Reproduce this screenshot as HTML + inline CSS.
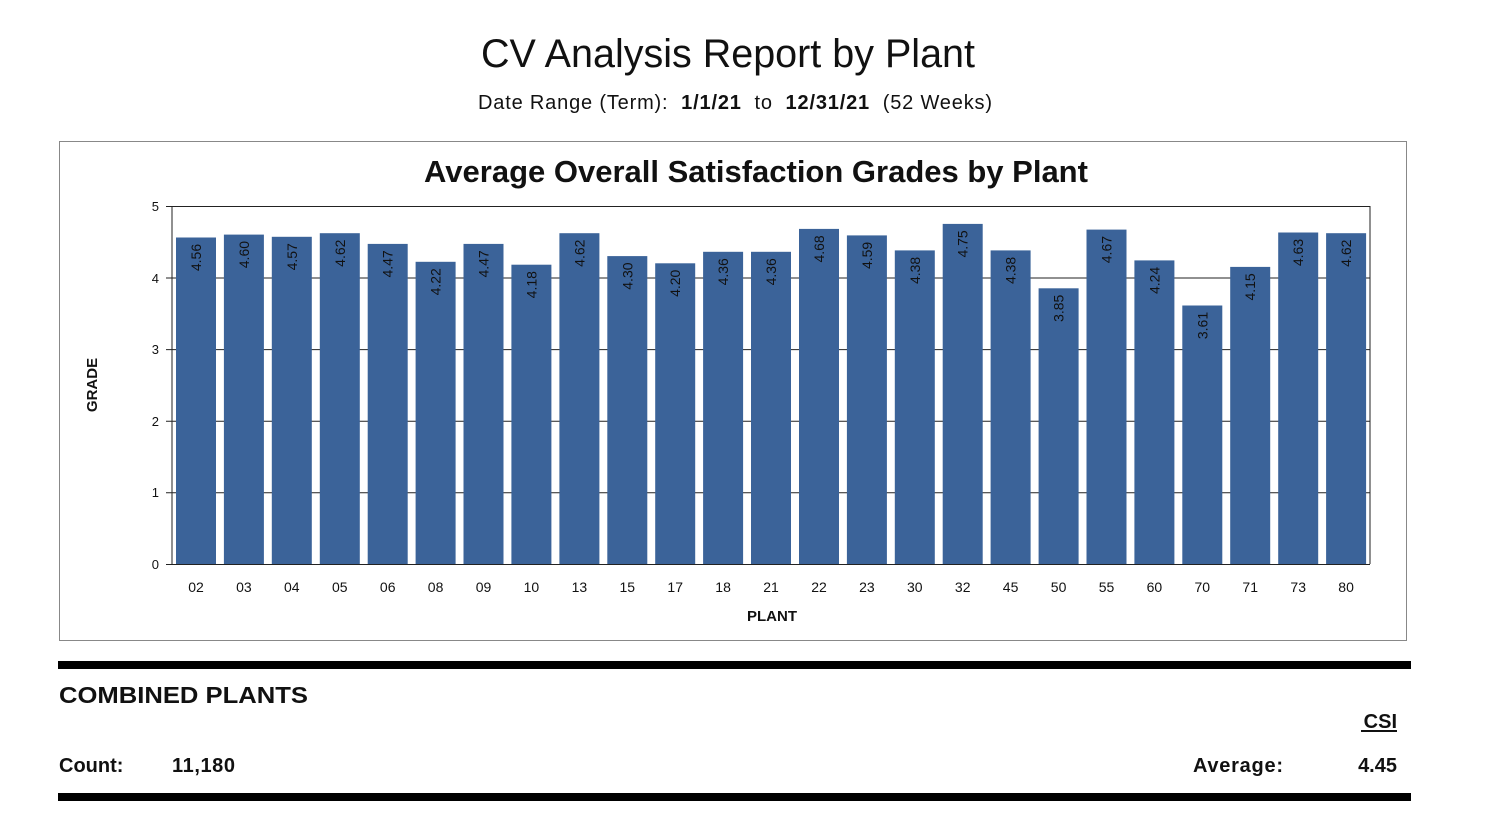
<!DOCTYPE html><html><head><style>body{margin:0;background:#fff}svg{display:block}</style></head><body>
<svg width="1495" height="835" xmlns="http://www.w3.org/2000/svg" font-family="Liberation Sans, Arial, sans-serif">
<rect width="1495" height="835" fill="#fff"/>
<text x="728" y="67" font-size="39.5" text-anchor="middle" fill="#111">CV Analysis Report by Plant</text>
<text x="478" y="109" font-size="20" fill="#111" textLength="514" lengthAdjust="spacing" xml:space="preserve">Date Range (Term):&#160;&#160;<tspan font-weight="bold">1/1/21</tspan>&#160;&#160;to&#160;&#160;<tspan font-weight="bold">12/31/21</tspan>&#160;&#160;(52 Weeks)</text>
<rect x="59.5" y="141.5" width="1347" height="499" fill="#fff" stroke="#888" stroke-width="1"/>
<text x="756" y="182" font-size="31" font-weight="bold" text-anchor="middle" fill="#111">Average Overall Satisfaction Grades by Plant</text>
<g stroke="#222" stroke-width="1">
<line x1="172" y1="206.5" x2="1370" y2="206.5"/><line x1="166" y1="278" x2="1370" y2="278"/><line x1="166" y1="349.6" x2="1370" y2="349.6"/><line x1="166" y1="421.2" x2="1370" y2="421.2"/><line x1="166" y1="492.8" x2="1370" y2="492.8"/><line x1="166" y1="206.5" x2="172" y2="206.5"/>
<line x1="1370" y1="206" x2="1370" y2="564"/>
</g>
<g font-size="13" fill="#111" text-anchor="end"><text x="159" y="211">5</text><text x="159" y="283">4</text><text x="159" y="354">3</text><text x="159" y="426">2</text><text x="159" y="497">1</text><text x="159" y="569">0</text></g>
<text transform="translate(97,385) rotate(-90)" font-size="15" font-weight="bold" text-anchor="middle" fill="#111">GRADE</text>
<text x="772" y="621" font-size="15" font-weight="bold" text-anchor="middle" fill="#111">PLANT</text>
<g fill="#3b6399">
<rect x="176" y="237.5" width="40" height="326.5"/><rect x="223.9" y="234.6" width="40" height="329.4"/><rect x="271.8" y="236.8" width="40" height="327.2"/><rect x="319.8" y="233.2" width="40" height="330.8"/><rect x="367.7" y="243.9" width="40" height="320.1"/><rect x="415.6" y="261.8" width="40" height="302.2"/><rect x="463.5" y="243.9" width="40" height="320.1"/><rect x="511.4" y="264.7" width="40" height="299.3"/><rect x="559.4" y="233.2" width="40" height="330.8"/><rect x="607.3" y="256.1" width="40" height="307.9"/><rect x="655.2" y="263.3" width="40" height="300.7"/><rect x="703.1" y="251.8" width="40" height="312.2"/><rect x="751" y="251.8" width="40" height="312.2"/><rect x="799" y="228.9" width="40" height="335.1"/><rect x="846.9" y="235.4" width="40" height="328.6"/><rect x="894.8" y="250.4" width="40" height="313.6"/><rect x="942.7" y="223.9" width="40" height="340.1"/><rect x="990.6" y="250.4" width="40" height="313.6"/><rect x="1038.6" y="288.3" width="40" height="275.7"/><rect x="1086.5" y="229.6" width="40" height="334.4"/><rect x="1134.4" y="260.4" width="40" height="303.6"/><rect x="1182.3" y="305.5" width="40" height="258.5"/><rect x="1230.2" y="266.9" width="40" height="297.1"/><rect x="1278.2" y="232.5" width="40" height="331.5"/><rect x="1326.1" y="233.2" width="40" height="330.8"/>
</g>
<line x1="172" y1="206" x2="172" y2="564.5" stroke="#222"/><line x1="166" y1="564.5" x2="1370" y2="564.5" stroke="#222"/>
<g font-size="14" fill="#111" text-anchor="middle" dominant-baseline="central">
<text transform="translate(196,257.5) rotate(-90)">4.56</text><text transform="translate(243.9,254.6) rotate(-90)">4.60</text><text transform="translate(291.8,256.8) rotate(-90)">4.57</text><text transform="translate(339.8,253.2) rotate(-90)">4.62</text><text transform="translate(387.7,263.9) rotate(-90)">4.47</text><text transform="translate(435.6,281.8) rotate(-90)">4.22</text><text transform="translate(483.5,263.9) rotate(-90)">4.47</text><text transform="translate(531.4,284.7) rotate(-90)">4.18</text><text transform="translate(579.4,253.2) rotate(-90)">4.62</text><text transform="translate(627.3,276.1) rotate(-90)">4.30</text><text transform="translate(675.2,283.3) rotate(-90)">4.20</text><text transform="translate(723.1,271.8) rotate(-90)">4.36</text><text transform="translate(771,271.8) rotate(-90)">4.36</text><text transform="translate(819,248.9) rotate(-90)">4.68</text><text transform="translate(866.9,255.4) rotate(-90)">4.59</text><text transform="translate(914.8,270.4) rotate(-90)">4.38</text><text transform="translate(962.7,243.9) rotate(-90)">4.75</text><text transform="translate(1010.6,270.4) rotate(-90)">4.38</text><text transform="translate(1058.6,308.3) rotate(-90)">3.85</text><text transform="translate(1106.5,249.6) rotate(-90)">4.67</text><text transform="translate(1154.4,280.4) rotate(-90)">4.24</text><text transform="translate(1202.3,325.5) rotate(-90)">3.61</text><text transform="translate(1250.2,286.9) rotate(-90)">4.15</text><text transform="translate(1298.2,252.5) rotate(-90)">4.63</text><text transform="translate(1346.1,253.2) rotate(-90)">4.62</text>
</g>
<g font-size="14" fill="#111" text-anchor="middle">
<text x="196" y="592">02</text><text x="243.9" y="592">03</text><text x="291.8" y="592">04</text><text x="339.8" y="592">05</text><text x="387.7" y="592">06</text><text x="435.6" y="592">08</text><text x="483.5" y="592">09</text><text x="531.4" y="592">10</text><text x="579.4" y="592">13</text><text x="627.3" y="592">15</text><text x="675.2" y="592">17</text><text x="723.1" y="592">18</text><text x="771" y="592">21</text><text x="819" y="592">22</text><text x="866.9" y="592">23</text><text x="914.8" y="592">30</text><text x="962.7" y="592">32</text><text x="1010.6" y="592">45</text><text x="1058.6" y="592">50</text><text x="1106.5" y="592">55</text><text x="1154.4" y="592">60</text><text x="1202.3" y="592">70</text><text x="1250.2" y="592">71</text><text x="1298.2" y="592">73</text><text x="1346.1" y="592">80</text>
</g>
<rect x="58" y="661" width="1353" height="8" fill="#000"/>
<rect x="58" y="793" width="1353" height="8" fill="#000"/>
<g font-weight="bold" fill="#111">
<text x="59" y="703" font-size="23" textLength="249" lengthAdjust="spacingAndGlyphs">COMBINED PLANTS</text>
<text x="59" y="772" font-size="20">Count:</text><text x="172" y="772" font-size="20" textLength="63">11,180</text>
<text x="1193" y="772" font-size="20" textLength="90">Average:</text><text x="1397" y="772" font-size="20" text-anchor="end">4.45</text>
<text x="1397" y="728" font-size="20" text-anchor="end">CSI</text>
</g>
<rect x="1361" y="730" width="36" height="2" fill="#111"/>
</svg></body></html>
